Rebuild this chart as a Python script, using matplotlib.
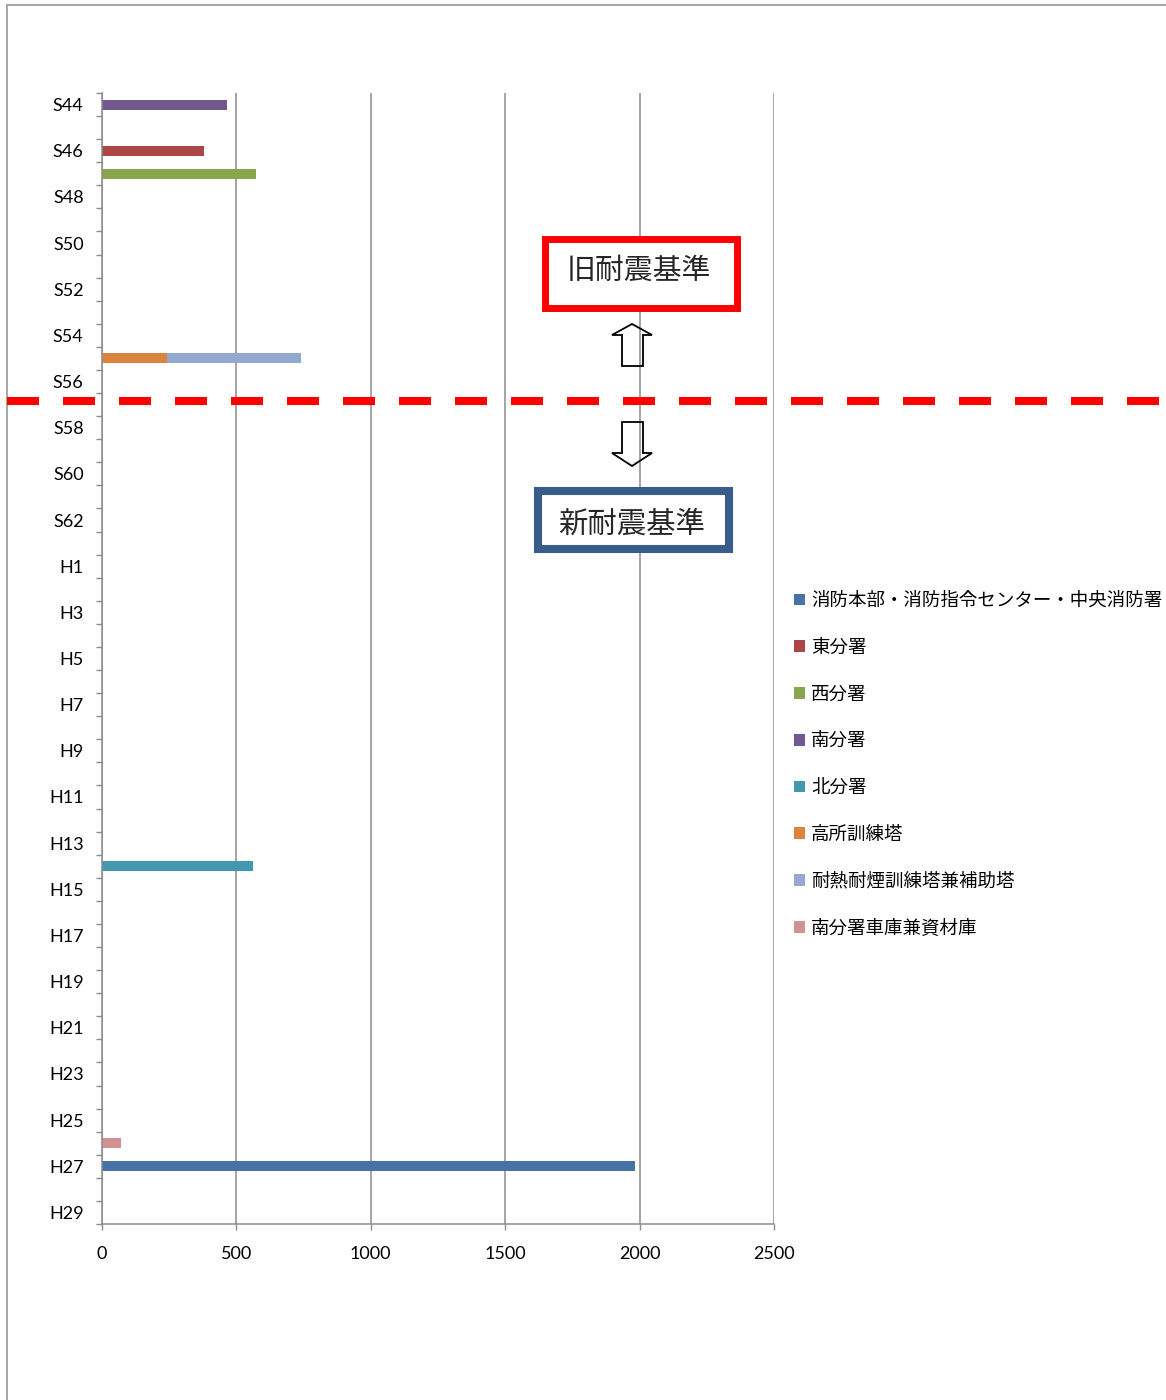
import matplotlib.pyplot as plt
import numpy as np
from matplotlib.lines import Line2D
from matplotlib.patches import Rectangle, Polygon

plt.rcParams['font.family'] = ['Noto Sans CJK JP', 'DejaVu Sans']
plt.rcParams['lines.scale_dashes'] = False

# 年度（昭和44年〜平成29年）
years = [f'S{n}' for n in range(44, 64)] + [f'H{n}' for n in range(1, 30)]

# 施設名・建築年度・延床面積
facilities = ['消防本部・消防指令センター・中央消防署', '東分署', '西分署', '南分署',
              '北分署', '高所訓練塔', '耐熱耐煙訓練塔兼補助塔', '南分署車庫兼資材庫']
built_year = ['H27', 'S46', 'S47', 'S44', 'H14', 'S55', 'S55', 'H26']
floor_area = [1982, 380, 573, 466, 561, 243, 496, 72]

colors = ['#4572A7', '#AA4643', '#89A54E', '#71588F',
          '#4198AF', '#DB843D', '#93A9CF', '#D19392']
gray = '#8C8C8C'

W, H = 1166, 1400
fig = plt.figure(figsize=(W / 100, H / 100), dpi=100)
ax = fig.add_axes([101.7 / W, 1 - 1224 / H, (774.3 - 101.7) / W, (1224 - 93) / H])


def px(x, y):
    # ピクセル座標 → figure座標
    return (x / W, 1 - y / H)


# 積み上げ横棒
ypos = np.arange(len(years))
left = np.zeros(len(years))
handles = []
for name, yr, val, c in zip(facilities, built_year, floor_area, colors):
    v = np.zeros(len(years))
    v[years.index(yr)] = val
    b = ax.barh(ypos, v, left=left, height=0.43, color=c, linewidth=0, label=name)
    left += v
    handles.append(b)

ax.set_xlim(0, 2500)
ax.set_ylim(len(years) - 0.5, -0.5)
ax.set_xticks(range(0, 2501, 500))
ax.set_yticks(ypos[::2])
ax.set_yticklabels(years[::2])
ax.set_yticks(np.arange(-0.5, len(years), 1), minor=True)

ax.tick_params(axis='y', which='major', length=0, pad=13)
ax.tick_params(axis='y', which='minor', length=4, width=1, color=gray)
ax.tick_params(axis='x', length=4, width=1, color=gray, pad=12)
for lab in ax.get_xticklabels() + ax.get_yticklabels():
    lab.set_family(['Lato', 'DejaVu Sans'])
    lab.set_fontsize(13)

ax.grid(axis='x', color=gray, linewidth=1.1)
ax.set_axisbelow(True)
for s in ['top', 'right']:
    ax.spines[s].set_visible(False)
for s in ['left', 'bottom']:
    ax.spines[s].set_color(gray)
    ax.spines[s].set_linewidth(1.1)

# 凡例
fig.legend(handles, facilities, loc='upper left', bbox_to_anchor=px(794, 592),
           frameon=False, fontsize=13.3, handlelength=0.6, handleheight=0.6,
           handletextpad=0.33, labelspacing=1.557, borderpad=0, borderaxespad=0)

# 旧耐震基準・新耐震基準の枠
fig.add_artist(Rectangle(px(544.5, 307.5), 192 / W, 68 / H, transform=fig.transFigure,
                         facecolor='white', edgecolor='#FF0000', linewidth=5.0, zorder=3))
fig.text(*px(639, 271), '旧耐震基準', ha='center', va='center', fontsize=20.8,
         color='#262626', zorder=4)
fig.add_artist(Rectangle(px(538, 549), 191 / W, 58 / H, transform=fig.transFigure,
                         facecolor='white', edgecolor='#385D8A', linewidth=5.8, zorder=3))
fig.text(*px(632, 524), '新耐震基準', ha='center', va='center', fontsize=21.2,
         color='#262626', zorder=4)

# 矢印（中抜き）
up = [(632, 324), (652, 335), (643, 335), (643, 366), (622, 366), (622, 335), (612, 335)]
down = [(622, 422), (643, 422), (643, 453), (652, 453), (632, 466), (612, 453), (622, 453)]
for pts in (up, down):
    fig.add_artist(Polygon([px(x, y) for x, y in pts], closed=True, fill=False,
                           edgecolor='black', linewidth=1.3, transform=fig.transFigure,
                           zorder=3))

# 境界の赤破線
fig.add_artist(Line2D([7 / W, 1160 / W], [1 - 400.5 / H] * 2, transform=fig.transFigure,
                      color='#FF0000', linewidth=5.8, linestyle=(0, (23.04, 17.28)),
                      zorder=5))

# 外枠
fig.add_artist(Line2D([7 / W, 7 / W], [0, 1 - 5 / H], transform=fig.transFigure,
                      color='#A6A6A6', linewidth=1.4))
fig.add_artist(Line2D([7 / W, 1], [1 - 5 / H] * 2, transform=fig.transFigure,
                      color='#A6A6A6', linewidth=1.4))

fig.savefig('out.png', dpi=100)
